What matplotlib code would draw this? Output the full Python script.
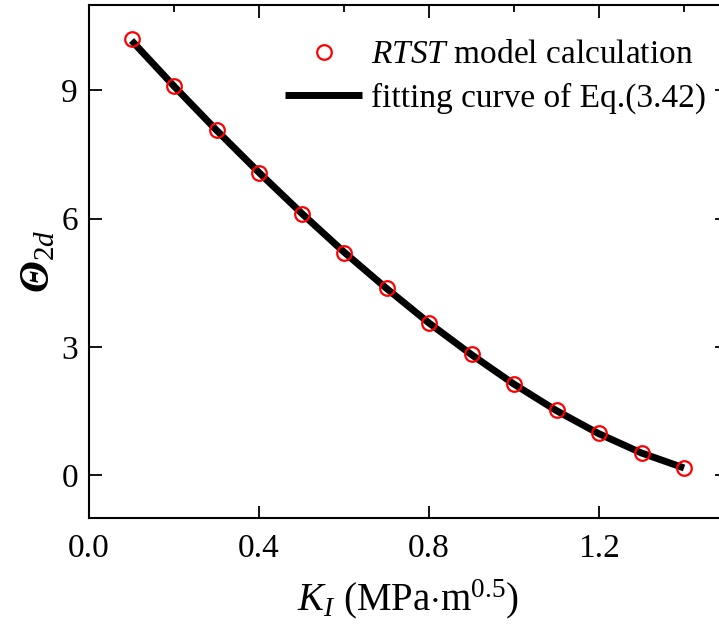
import matplotlib
matplotlib.use("Agg")
from matplotlib import pyplot as plt
from matplotlib.ticker import MultipleLocator

# data
ki = [0.1, 0.2, 0.3, 0.4, 0.5, 0.6, 0.7, 0.8, 0.9, 1.0, 1.1, 1.2, 1.3, 1.4]
theta_rtst = [10.21, 9.10, 8.07, 7.07, 6.12, 5.21, 4.37, 3.56, 2.83, 2.13, 1.52, 0.98, 0.51, 0.18]
theta_fit = [10.17, 9.10, 8.07, 7.08, 6.13, 5.22, 4.37, 3.56, 2.82, 2.13, 1.51, 0.97, 0.52, 0.17]

plt.rcParams['font.family'] = ['Liberation Serif', 'DejaVu Serif']
plt.rcParams['mathtext.fontset'] = 'custom'
plt.rcParams['mathtext.rm'] = 'Liberation Serif'
plt.rcParams['mathtext.it'] = 'Liberation Serif:italic'
plt.rcParams['mathtext.bf'] = 'Liberation Serif:italic:bold'

fig = plt.figure(figsize=(7.19, 6.32), dpi=100)
ax = fig.add_axes([0.1238, 0.1804, 0.8867, 0.8117])

ax.plot(ki, theta_fit, color='black', lw=5, solid_capstyle='butt',
        label='fitting curve of Eq.(3.42)', zorder=2)
ax.plot(ki, theta_rtst, 'o', ms=10.5, mfc='none', mec='#ff0000', mew=1.6,
        label=r'$\mathit{RTST}$ model calculation', zorder=3)

ax.set_xlim(0, 1.5)
ax.set_ylim(-1, 11)
ax.xaxis.set_major_locator(MultipleLocator(0.4))
ax.xaxis.set_minor_locator(MultipleLocator(0.2))
ax.yaxis.set_major_locator(MultipleLocator(3))
ax.xaxis.set_major_formatter(matplotlib.ticker.FormatStrFormatter('%.1f'))

ax.tick_params(which='both', direction='in', labelsize=24, width=1.3)
ax.tick_params(axis='x', which='major', length=9, pad=11, top=True)
ax.tick_params(axis='x', which='minor', length=5, top=True, bottom=False)
ax.tick_params(axis='y', which='major', length=9, pad=8, right=True)
for s in ax.spines.values():
    s.set_linewidth(1.5)

ax.set_xlabel(r'$K_I$ (MPa$\cdot$m$^{0.5}$)', fontsize=28, labelpad=10)
ax.set_ylabel(r'$\mathbf{\Theta}_{2d}$', fontsize=30, labelpad=2)

h, l = ax.get_legend_handles_labels()
ax.legend(h[::-1], l[::-1], loc='upper left', bbox_to_anchor=(0.307, 0.932),
          frameon=False, fontsize=24, handlelength=2.33, handletextpad=0.25,
          labelspacing=0.36, borderpad=0, borderaxespad=0)

fig.savefig('out.png', dpi=100)
